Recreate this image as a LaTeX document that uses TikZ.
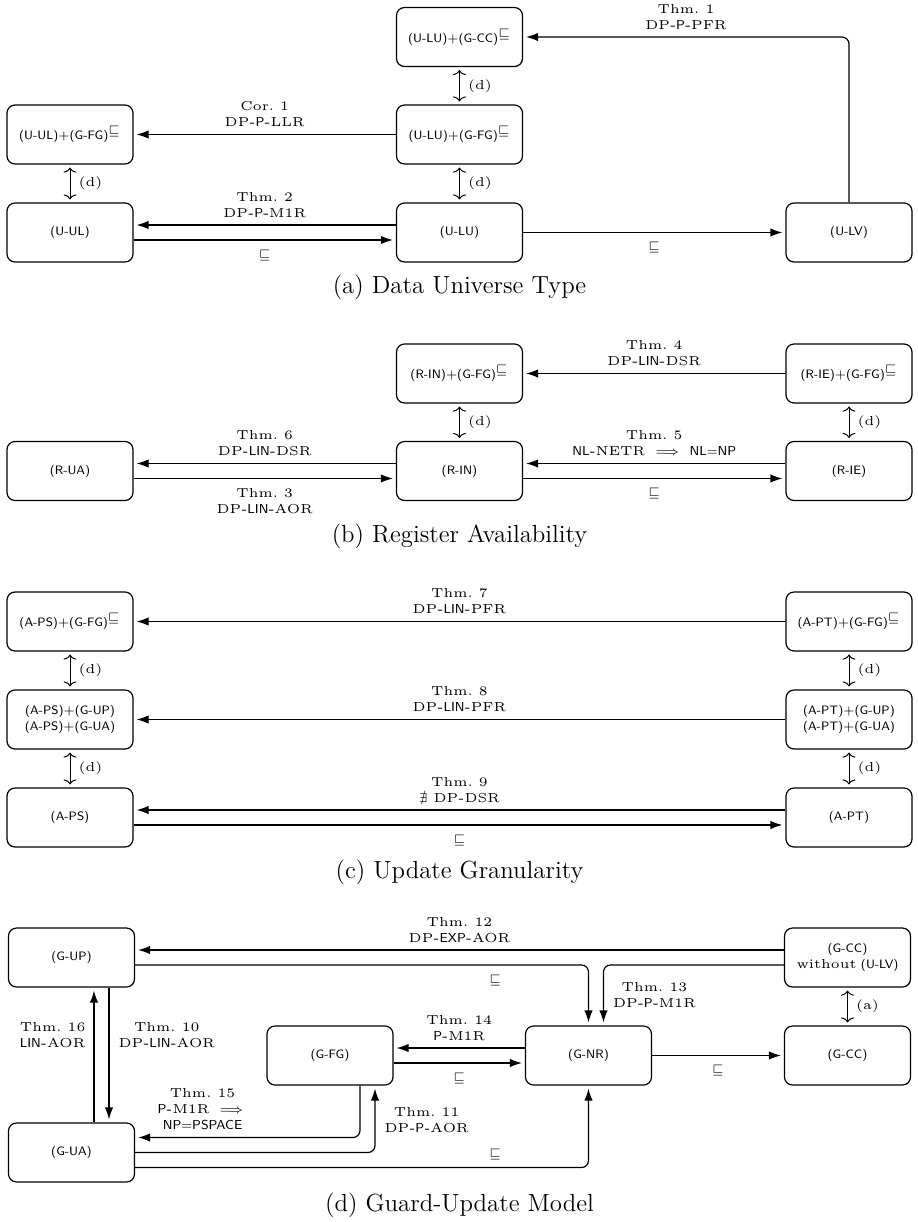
\documentclass[tikz,border=0pt]{standalone}
\usepackage{amsmath,amssymb}
\usepackage{fontspec}
\usetikzlibrary{arrows.meta}
% wide small-design roman for the edge labels
\newfontfamily\lblrm{lmroman5-regular.otf}
\newcommand\boxfont{\sffamily\fontsize{6.1}{8}\selectfont}
\newcommand\lblfont{\lblrm\fontsize{6.5}{8}\selectfont}
\newcommand\capfont{\rmfamily\fontsize{12.4}{15}\selectfont}
\newcommand\sqsup{$^{\textstyle\sqsubseteq}$}
\begin{document}
\begin{tikzpicture}[x=0.5pt,y=-0.5pt,
  box/.style={draw, line width=0.6pt, rounded corners=4pt, minimum width=63pt,
    minimum height=29.5pt, inner sep=1pt, align=center, font=\boxfont},
  lbl/.style={inner sep=0pt, align=center, font=\lblfont},
  captext/.style={inner sep=0pt, font=\capfont},
  arr/.style={line width=0.6pt, -{Latex[length=6pt,width=4.2pt]}, shorten >=1.5pt},
  dbl/.style={line width=0.5pt, {To[length=2.5pt,width=6.5pt]}-{To[length=2.5pt,width=6.5pt]},
    shorten >=1.5pt, shorten <=1.5pt},
  roundbend/.style={rounded corners=3.5pt}]
\useasboundingbox (0,0) rectangle (917,1222);

% ---------------- (a) Data Universe Type ----------------
\node[box] (uug)  at (70,134.5)   {(U-UL)$+$(G-FG)\sqsup};
\node[box] (uul)  at (70,232.5)   {(U-UL)};
\node[box] (lucc) at (459.5,37)   {(U-LU)$+$(G-CC)\sqsup};
\node[box] (lufg) at (459.5,134.5){(U-LU)$+$(G-FG)\sqsup};
\node[box] (ulu)  at (459.5,232.5){(U-LU)};
\node[box] (ulv)  at (849,232.5)  {(U-LV)};

\draw[arr, roundbend] (ulv.north) |- node[lbl, pos=0.75, above=3.5pt]{Thm.~1\\DP-\textsf{P}-PFR} (lucc.east);
\draw[arr] (lufg) -- node[lbl, above=3.5pt]{Cor.~1\\DP-\textsf{P}-LLR} (uug);
\draw[arr] ([yshift=3.75pt]ulu.west) -- node[lbl, above=3.5pt]{Thm.~2\\DP-\textsf{P}-M1R} ([yshift=3.75pt]uul.east);
\draw[arr] ([yshift=-3.75pt]uul.east) -- node[lbl, below=4.5pt]{$\sqsubseteq$} ([yshift=-3.75pt]ulu.west);
\draw[arr] (ulu) -- node[lbl, below=4.5pt]{$\sqsubseteq$} (ulv);
\draw[dbl] (lucc) -- node[lbl, right=4pt]{(d)} (lufg);
\draw[dbl] (lufg) -- node[lbl, right=4pt]{(d)} (ulu);
\draw[dbl] (uug) -- node[lbl, right=4pt]{(d)} (uul);
\node[captext] (capa) at (459.5,287) {(a) Data Universe Type};

% ---------------- (b) Register Availability ----------------
\node[box] (rig)  at (459.5,373.5) {(R-IN)$+$(G-FG)\sqsup};
\node[box] (rieg) at (849,373.5)   {(R-IE)$+$(G-FG)\sqsup};
\node[box] (rua)  at (70,471)      {(R-UA)};
\node[box] (rin)  at (459.5,471)   {(R-IN)};
\node[box] (rie)  at (849,471)     {(R-IE)};

\draw[arr] (rieg) -- node[lbl, above=3.5pt]{Thm.~4\\DP-\textsf{LIN}-DSR} (rig);
\draw[dbl] (rig) -- node[lbl, right=4pt]{(d)} (rin);
\draw[dbl] (rieg) -- node[lbl, right=4pt]{(d)} (rie);
\draw[arr] ([yshift=3.75pt]rin.west) -- node[lbl, above=3.5pt]{Thm.~6\\DP-\textsf{LIN}-DSR} ([yshift=3.75pt]rua.east);
\draw[arr] ([yshift=-3.75pt]rua.east) -- node[lbl, below=4.5pt]{Thm.~3\\DP-\textsf{LIN}-AOR} ([yshift=-3.75pt]rin.west);
\draw[arr] ([yshift=3.75pt]rie.west) -- node[lbl, above=3.5pt]{Thm.~5\\\textsf{NL}-NETR $\implies$ \textsf{NL=NP}} ([yshift=3.75pt]rin.east);
\draw[arr] ([yshift=-3.75pt]rin.east) -- node[lbl, below=4.5pt]{$\sqsubseteq$} ([yshift=-3.75pt]rie.west);
\node[captext] (capb) at (459.5,536) {(b) Register Availability};

% ---------------- (c) Update Granularity ----------------
\node[box] (apsg) at (70,621.5)  {(A-PS)$+$(G-FG)\sqsup};
\node[box] (aptg) at (849,621.5) {(A-PT)$+$(G-FG)\sqsup};
\node[box] (apsu) at (70,719.5)  {(A-PS)$+$(G-UP)\\(A-PS)$+$(G-UA)};
\node[box] (aptu) at (849,719.5) {(A-PT)$+$(G-UP)\\(A-PT)$+$(G-UA)};
\node[box] (aps)  at (70,817.5)  {(A-PS)};
\node[box] (apt)  at (849,817.5) {(A-PT)};

\draw[arr] (aptg) -- node[lbl, above=3.5pt]{Thm.~7\\DP-\textsf{LIN}-PFR} (apsg);
\draw[arr] (aptu) -- node[lbl, above=3.5pt]{Thm.~8\\DP-\textsf{LIN}-PFR} (apsu);
\draw[arr] ([yshift=3.75pt]apt.west) -- node[lbl, above=3.5pt]{Thm.~9\\$\nexists$ DP-DSR} ([yshift=3.75pt]aps.east);
\draw[arr] ([yshift=-3.75pt]aps.east) -- node[lbl, below=4.5pt]{$\sqsubseteq$} ([yshift=-3.75pt]apt.west);
\draw[dbl] (apsg) -- node[lbl, right=4pt]{(d)} (apsu);
\draw[dbl] (apsu) -- node[lbl, right=4pt]{(d)} (aps);
\draw[dbl] (aptg) -- node[lbl, right=4pt]{(d)} (aptu);
\draw[dbl] (aptu) -- node[lbl, right=4pt]{(d)} (apt);
\node[captext] (capc) at (459.5,872) {(c) Update Granularity};

% ---------------- (d) Guard-Update Model ----------------
\node[box] (gup)  at (71.5,957.5)   {(G-UP)};
\node[box] (gccw) at (847.5,957.5)  {(G-CC)\\{\lblfont without} (U-LV)};
\node[box] (gfg)  at (330,1055.5)   {(G-FG)};
\node[box] (gnr)  at (588.5,1055.5) {(G-NR)};
\node[box] (gcc)  at (847.5,1055.5) {(G-CC)};
\node[box] (gua)  at (71.5,1152.5)  {(G-UA)};

\draw[arr] ([yshift=3.75pt]gccw.west) -- node[lbl, above=3.5pt]{Thm.~12\\DP-\textsf{EXP}-AOR} ([yshift=3.75pt]gup.east);
\draw[arr, roundbend] ([yshift=-3.75pt]gup.east) -| node[lbl, pos=0.397, below=4.5pt]{$\sqsubseteq$} (gnr.north);
\draw[arr, roundbend] ([yshift=-3.75pt]gccw.west) -| node[lbl, pos=0.75, right=4.5pt]{Thm.~13\\DP-\textsf{P}-M1R} ([xshift=7.5pt]gnr.north);
\draw[arr] ([yshift=3.75pt]gnr.west) -- node[lbl, above=3.5pt]{Thm.~14\\\textsf{P}-M1R} ([yshift=3.75pt]gfg.east);
\draw[arr] ([yshift=-3.75pt]gfg.east) -- node[lbl, below=4.5pt]{$\sqsubseteq$} ([yshift=-3.75pt]gnr.west);
\draw[arr] (gnr) -- node[lbl, below=4.5pt]{$\sqsubseteq$} (gcc);
\draw[dbl] (gccw) -- node[lbl, right=4pt]{(a)} (gcc);
\draw[arr] ([xshift=11.25pt]gua.north) -- node[lbl, pos=0.65, left=4pt]{Thm.~16\\\textsf{LIN}-AOR} ([xshift=11.25pt]gup.south);
\draw[arr] ([xshift=18.75pt]gup.south) -- node[lbl, pos=0.35, right=4.5pt]{Thm.~10\\DP-\textsf{LIN}-AOR} ([xshift=18.75pt]gua.north);
\draw[arr, roundbend] ([xshift=15pt]gfg.south) |- node[lbl, pos=0.85, above=3.5pt]{Thm.~15\\\textsf{P}-M1R $\implies$\\\textsf{NP=PSPACE}} ([yshift=7.5pt]gua.east);
\draw[arr, roundbend] (gua.east) -| node[lbl, pos=0.74, right=4.5pt]{Thm.~11\\DP-\textsf{P}-AOR} ([xshift=22.5pt]gfg.south);
\draw[arr, roundbend] ([yshift=-7.5pt]gua.east) -| node[lbl, pos=0.397, above=3.5pt]{$\sqsubseteq$} (gnr.south);
\node[captext] (capd) at (459.5,1205) {(d) Guard-Update Model};
\end{tikzpicture}
\end{document}
